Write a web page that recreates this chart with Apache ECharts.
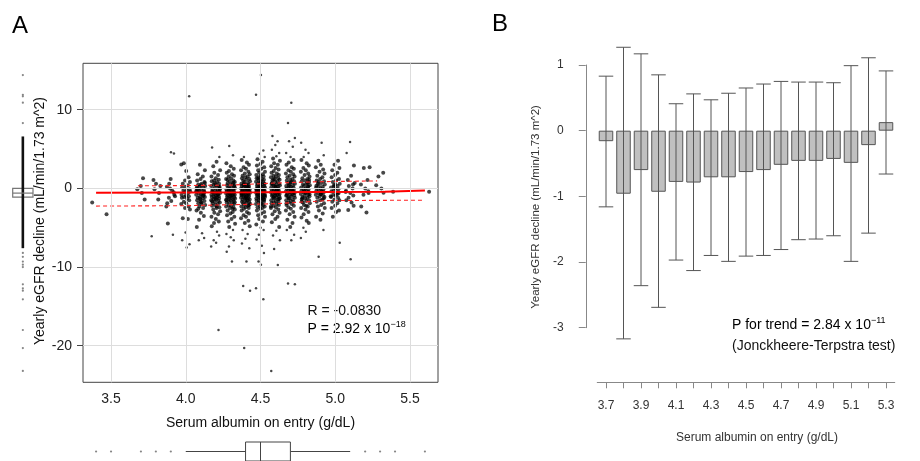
<!DOCTYPE html>
<html><head><meta charset="utf-8">
<script src="https://cdn.jsdelivr.net/npm/echarts@6/dist/echarts.min.js"></script>
<style>html,body{margin:0;padding:0;background:#fff}#c{width:920px;height:461px}</style>
</head><body><div id="c"></div>
<script>
const FONT = '"Liberation Sans", Arial, sans-serif';

// ---------- Panel A : scatter ----------
const A_X_TICKS = [3.5, 4.0, 4.5, 5.0, 5.5];
const A_Y_TICKS = [10, 0, -10, -20];
const JITTER = [-0.026, 0.009, 0.023, -0.013, 0.003, -0.03, 0.019, -0.005, 0.028, -0.02, 0.014, -0.001, -0.024, 0.025, 0.006, -0.016, 0.03, -0.009, 0.016, -0.028, 0.001, 0.021, -0.011];

const Y_34 = [-1.8];
const Y_35 = [-3.3];
const Y_37 = [1.3, 0.3, -0.1, -1.4, -0.6];
const Y_38 = [1.05, 0.3, -0.1, -1.4, -6.1, 0.6, -0.6];
const Y_39 = [4.6, 4.45, 0.6, 0.2, -0.3, -0.8, -1.2, -1.6, -2.3, -0.5, 0.0, -1.0, -4.45, -5.9, 1.2, -1.9];
const Y_40 = [11.7, 3.2, 2.2, 3.05, 1.4, 1.0, 0.8, 0.6, 0.4, 0.2, 0.1, -0.1, -0.2, -0.3, -0.4, -0.5, -0.6, -0.8, -0.9, -1.0, -1.1, -1.2, -1.3, -1.5, -1.7, -1.9, -2.0, -2.3, -2.5, -2.7, -3.8, -3.9, -5.6, -6.6, -7.1, -7.5];
const Y_41 = [3.0, 2.3, 1.8, 1.5, 1.2, 1.0, 0.8, 0.6, 0.5, 0.3, 0.2, 0.1, 0.0, -0.1, -0.2, -0.3, -0.4, -0.5, -0.5, -0.6, -0.7, -0.8, -0.9, -1.0, -1.1, -1.2, -1.3, -1.4, -1.5, -1.6, -1.8, -1.9, -2.1, -2.3, -2.5, -2.8, -3.1, -3.5, -4.0, -4.9, -5.7, -6.3, -6.6, 0.4, -0.35, -0.75, -1.25, 0.7, -0.15, -0.95, -1.7, 0.25, -0.45, -2.0, -2.6];
const Y_42 = [5.2, 4.0, 3.4, 2.8, 2.3, 2.0, 1.7, 1.5, 1.3, 1.1, 1.0, 0.9, 0.8, 0.6, 0.5, 0.4, 0.3, 0.2, 0.1, 0.0, -0.1, -0.2, -0.3, -0.35, -0.4, -0.5, -0.55, -0.6, -0.7, -0.75, -0.8, -0.9, -1.0, -1.05, -1.1, -1.2, -1.3, -1.35, -1.4, -1.5, -1.6, -1.7, -1.8, -1.9, -2.0, -2.1, -2.2, -2.4, -2.5, -2.7, -2.9, -3.1, -3.3, -3.6, -3.9, -4.2, -4.4, -4.8, -5.5, -6.0, -6.6, -6.9, -7.4, -18.0, 0.65, -0.15, -0.45, -0.85, -1.25, -1.65, 0.25, -2.3];
const Y_43 = [5.4, 4.2, 3.2, 2.8, 2.5, 2.2, 2.0, 1.8, 1.6, 1.5, 1.3, 1.2, 1.0, 0.9, 0.8, 0.7, 0.6, 0.5, 0.4, 0.3, 0.2, 0.1, 0.05, 0.0, -0.1, -0.15, -0.2, -0.3, -0.35, -0.4, -0.45, -0.5, -0.55, -0.6, -0.65, -0.7, -0.75, -0.8, -0.85, -0.9, -1.0, -1.05, -1.1, -1.15, -1.2, -1.3, -1.35, -1.4, -1.5, -1.55, -1.6, -1.7, -1.8, -1.9, -2.0, -2.1, -2.2, -2.3, -2.4, -2.5, -2.7, -2.8, -3.0, -3.2, -3.4, -3.6, -3.9, -4.2, -4.5, -4.9, -5.3, -5.8, -6.2, -6.6, -7.4, -8.05, -9.3, 0.35, -0.25, -0.95, -1.45, 0.75, -0.6, -1.75, 1.1, -2.6];
const Y_44 = [4.0, 3.6, 3.3, 3.0, 2.7, 2.5, 2.3, 2.1, 1.9, 1.8, 1.6, 1.5, 1.4, 1.3, 1.2, 1.1, 1.0, 0.9, 0.8, 0.7, 0.6, 0.5, 0.45, 0.4, 0.3, 0.25, 0.2, 0.1, 0.05, 0.0, -0.05, -0.1, -0.15, -0.2, -0.25, -0.3, -0.35, -0.4, -0.45, -0.5, -0.55, -0.6, -0.65, -0.7, -0.75, -0.8, -0.85, -0.9, -0.95, -1.0, -1.05, -1.1, -1.2, -1.25, -1.3, -1.4, -1.45, -1.5, -1.6, -1.7, -1.75, -1.8, -1.9, -2.0, -2.1, -2.2, -2.3, -2.4, -2.5, -2.6, -2.8, -3.0, -3.2, -3.4, -3.6, -3.8, -4.1, -4.4, -4.8, -5.3, -5.8, -6.4, -7.0, -7.6, -9.3, -12.4, -13.0, -20.3, 0.15, -0.5, -1.15, -0.3, 0.55, -0.7, -1.35, -2.15];
const Y_45 = [14.4, 11.9, 4.8, 4.4, 4.0, 3.7, 3.4, 3.1, 2.9, 2.7, 2.5, 2.3, 2.1, 2.0, 1.8, 1.7, 1.6, 1.5, 1.4, 1.3, 1.2, 1.1, 1.0, 0.9, 0.85, 0.8, 0.7, 0.6, 0.55, 0.5, 0.4, 0.35, 0.3, 0.2, 0.15, 0.1, 0.0, -0.05, -0.1, -0.15, -0.2, -0.25, -0.3, -0.35, -0.4, -0.45, -0.5, -0.55, -0.6, -0.65, -0.7, -0.75, -0.8, -0.85, -0.9, -0.95, -1.0, -1.05, -1.1, -1.15, -1.2, -1.3, -1.35, -1.4, -1.5, -1.55, -1.6, -1.7, -1.8, -1.9, -2.0, -2.1, -2.2, -2.3, -2.4, -2.5, -2.6, -2.8, -3.0, -3.2, -3.4, -3.6, -3.9, -4.2, -4.6, -5.0, -5.3, -5.9, -6.5, -7.3, -8.2, -9.3, -9.7, -12.7, -14.1, 0.25, -0.3, -0.6, -1.25, 0.65, -0.05, -1.45, -2.05, 1.25, -0.9];
const Y_46 = [6.65, 6.0, 5.5, 4.9, 4.5, 4.1, 3.8, 3.5, 3.2, 3.0, 2.8, 2.6, 2.4, 2.2, 2.0, 1.9, 1.7, 1.6, 1.5, 1.4, 1.3, 1.2, 1.1, 1.0, 0.9, 0.8, 0.7, 0.6, 0.5, 0.45, 0.4, 0.3, 0.2, 0.15, 0.1, 0.0, -0.1, -0.15, -0.2, -0.3, -0.35, -0.4, -0.5, -0.55, -0.6, -0.7, -0.75, -0.8, -0.9, -0.95, -1.0, -1.1, -1.2, -1.25, -1.3, -1.4, -1.5, -1.6, -1.7, -1.8, -1.9, -2.0, -2.1, -2.2, -2.4, -2.5, -2.7, -2.9, -3.1, -3.3, -3.6, -3.9, -4.3, -4.9, -5.4, -6.0, -6.6, -7.7, -9.75, -23.2, 0.25, -0.45, -1.05, 0.55, -0.25, -1.35, 1.15, -0.65, -2.3];
const Y_47 = [10.9, 8.3, 6.4, 6.0, 5.3, 4.5, 4.0, 3.6, 3.3, 3.0, 2.7, 2.5, 2.3, 2.1, 1.9, 1.8, 1.6, 1.5, 1.4, 1.2, 1.1, 1.0, 0.9, 0.8, 0.7, 0.6, 0.5, 0.4, 0.3, 0.2, 0.1, 0.05, 0.0, -0.1, -0.2, -0.25, -0.3, -0.4, -0.45, -0.5, -0.6, -0.65, -0.7, -0.8, -0.85, -0.9, -1.0, -1.1, -1.2, -1.3, -1.4, -1.5, -1.6, -1.7, -1.8, -1.9, -2.0, -2.2, -2.4, -2.6, -2.8, -3.0, -3.3, -3.6, -4.0, -4.4, -4.9, -5.3, -5.9, -6.6, -12.1, -12.2, 0.35, -0.35, -0.95, 0.75, -0.55, -1.25, -2.1];
const Y_48 = [5.8, 4.9, 4.5, 4.0, 3.6, 3.2, 2.9, 2.6, 2.3, 2.1, 1.9, 1.7, 1.5, 1.3, 1.2, 1.0, 0.9, 0.8, 0.6, 0.5, 0.4, 0.3, 0.2, 0.1, 0.0, -0.1, -0.2, -0.3, -0.4, -0.45, -0.5, -0.6, -0.7, -0.8, -0.9, -1.0, -1.1, -1.2, -1.3, -1.4, -1.5, -1.6, -1.8, -1.9, -2.1, -2.3, -2.5, -2.7, -3.0, -3.3, -3.7, -4.1, -4.4, -5.0, -5.5, -6.3, 0.25, -0.35, -0.75, -1.25, 0.7, -0.55, -1.7, 1.1, -2.2];
const Y_49 = [5.8, 4.2, 3.5, 3.0, 2.7, 2.4, 2.1, 1.9, 1.6, 1.4, 1.2, 1.0, 0.9, 0.7, 0.6, 0.5, 0.3, 0.2, 0.1, 0.0, -0.1, -0.2, -0.3, -0.4, -0.5, -0.6, -0.7, -0.8, -0.9, -1.0, -1.1, -1.2, -1.4, -1.5, -1.7, -1.9, -2.1, -2.3, -2.5, -2.8, -3.2, -3.6, -4.0, -5.3, -8.7, 0.35, -0.45, -1.3, 0.8, -0.75];
const Y_50 = [3.5, 3.0, 2.6, 2.3, 2.0, 1.7, 1.4, 1.2, 1.0, 0.8, 0.6, 0.4, 0.3, 0.1, 0.0, -0.1, -0.3, -0.4, -0.5, -0.6, -0.8, -0.9, -1.0, -1.2, -1.4, -1.5, -1.7, -1.9, -2.2, -2.5, -2.8, -3.0, -3.6, -6.9, 0.2, -0.7, -1.1, 0.5];
const Y_51 = [5.9, 4.5, 2.9, 1.6, 1.05, 0.7, 0.3, 0.0, -0.3, -0.6, -0.9, -1.2, -1.5, -1.8, -2.2, -2.75, -9.0, -0.45, 0.5];
const Y_52 = [2.7, 2.6, 1.05, 0.5, 0.0, -0.35, -0.8, -2.3, -3.05, -0.6];
const Y_53 = [2.0, 1.5, 0.4, 0.0, -0.55];
const Y_54 = [-0.43];
const Y_56 = [-0.43];

const COLUMN_X = [3.4, 3.5, 3.7, 3.8, 3.9, 4.0, 4.1, 4.2, 4.3, 4.4, 4.5, 4.6, 4.7, 4.8, 4.9, 5.0, 5.1, 5.2, 5.3, 5.4, 5.6];
const COLUMN_Y = [Y_34, Y_35, Y_37, Y_38, Y_39, Y_40, Y_41, Y_42, Y_43, Y_44, Y_45, Y_46, Y_47, Y_48, Y_49, Y_50, Y_51, Y_52, Y_53, Y_54, Y_56];

// fitted line and dashed band
const FIT_X = [3.4, 4.5, 5.33, 5.34, 5.6];
const FIT_Y = [-0.56, -0.5, -0.43, -0.27, -0.27];
const UPPER_X = [3.68, 4.0, 4.3, 4.6, 4.9, 5.28];
const UPPER_Y = [0.33, 0.36, 0.42, 0.68, 0.85, 0.95];
const LOWER_X = [3.4, 4.0, 4.6, 4.95, 5.6];
const LOWER_Y = [-2.25, -2.2, -1.95, -1.55, -1.5];

// marginal boxplots: [lower whisker, Q1, median, Q3, upper whisker]
const LEFT_BOX = [-2.75, -1.1, -0.6, 0.0, 1.65];
const LEFT_DENSE_RANGE = [-7.6, 6.6];
const LEFT_OUTLIERS = [14.4, 11.9, 11.7, 10.9, 8.3, -8.2, -8.7, -9.3, -9.7, -10.0, -12.2, -12.7, -13.0, -14.1, -18.0, -20.3, -23.2];
const BOTTOM_BOX = [4.0, 4.4, 4.5, 4.7, 5.1];
const BOTTOM_OUTLIERS = [3.4, 3.5, 3.7, 3.8, 3.9, 5.2, 5.3, 5.4, 5.6];

// ---------- Panel B : bars ----------
const B_CATS = ['3.7','3.8','3.9','4.0','4.1','4.2','4.3','4.4','4.5','4.6','4.7','4.8','4.9','5.0','5.1','5.2','5.3'];
const B_MEAN = [-0.16, -0.96, -0.60, -0.93, -0.78, -0.79, -0.71, -0.71, -0.63, -0.60, -0.52, -0.46, -0.46, -0.43, -0.49, -0.22, 0.13];
const B_HIGH = [0.83, 1.27, 1.17, 0.85, 0.41, 0.56, 0.47, 0.57, 0.65, 0.71, 0.75, 0.74, 0.74, 0.73, 0.99, 1.11, 0.91];
const B_LOW = [-1.16, -3.17, -2.36, -2.69, -1.97, -2.13, -1.90, -1.99, -1.91, -1.90, -1.81, -1.66, -1.65, -1.60, -1.99, -1.56, -0.66];

// ---------- build ----------
const scatterPts = [];
COLUMN_X.forEach((cx, ci) => {
  COLUMN_Y[ci].forEach((y, i) => {
    scatterPts.push([cx + JITTER[(i + ci * 5) % JITTER.length], y]);
  });
});
const zip = (xs, ys) => xs.map((x, i) => [x, ys[i]]);

const chart = echarts.init(document.getElementById('c'));
const AX = {min: 3.3125, max: 5.6875};
const AY = {min: -24.65, max: 15.9};
const supStyle = {
  n: {fontSize: 14, fontFamily: FONT, color: '#111', lineHeight: 18},
  s: {fontSize: 9, fontFamily: FONT, color: '#111', verticalAlign: 'top', lineHeight: 18}
};

chart.setOption({
  animation: false,
  textStyle: {fontFamily: FONT},
  grid: [
    {left: 83, top: 63.3, width: 355, height: 319, show: true, borderColor: '#444', borderWidth: 1, backgroundColor: 'rgba(0,0,0,0)'},
    {left: 597.25, top: 65, width: 297.5, height: 262.7},
    {left: 83, top: 442, width: 355, height: 22},
    {left: 12.7, top: 63.3, width: 20.3, height: 319}
  ],
  xAxis: [
    {gridIndex: 0, type: 'value', min: AX.min, max: AX.max,
     axisLine: {show: false},
     axisTick: {show: true, customValues: A_X_TICKS, length: 6, lineStyle: {color: '#444'}},
     axisLabel: {customValues: A_X_TICKS, formatter: v => v.toFixed(1), fontSize: 14, color: '#222', margin: 10, fontFamily: FONT},
     splitLine: {show: false}},
    {gridIndex: 1, type: 'category', data: B_CATS, offset: 54.6,
     axisLine: {show: true, onZero: false, lineStyle: {color: '#888'}},
     axisTick: {show: true, alignWithLabel: true, interval: 0, length: 6, lineStyle: {color: '#888'}},
     axisLabel: {interval: 1, fontSize: 12, color: '#333', margin: 17, fontFamily: FONT},
     splitLine: {show: false}},
    {gridIndex: 2, type: 'value', min: AX.min, max: AX.max, show: false},
    {gridIndex: 3, type: 'value', min: 0, max: 1, show: false}
  ],
  yAxis: [
    {gridIndex: 0, type: 'value', min: AY.min, max: AY.max,
     axisLine: {show: false},
     axisTick: {show: true, customValues: A_Y_TICKS, length: 6, lineStyle: {color: '#444'}},
     axisLabel: {customValues: A_Y_TICKS, fontSize: 14, color: '#222', margin: 11, fontFamily: FONT},
     splitLine: {show: false}},
    {gridIndex: 1, type: 'value', min: -3, max: 1, interval: 1, offset: 11.5,
     axisLine: {show: true, lineStyle: {color: '#888'}},
     axisTick: {show: true, length: 7, lineStyle: {color: '#888'}},
     axisLabel: {fontSize: 12, color: '#333', margin: 22, fontFamily: FONT},
     splitLine: {show: false}},
    {gridIndex: 2, type: 'value', min: 0, max: 1, show: false},
    {gridIndex: 3, type: 'value', min: AY.min, max: AY.max, show: false}
  ],
  series: [
    {type: 'line', xAxisIndex: 0, yAxisIndex: 0, data: [], z: 1, silent: true,
     markLine: {silent: true, symbol: ['none', 'none'], label: {show: false},
       lineStyle: {color: '#dddddd', type: 'solid', width: 1},
       data: A_X_TICKS.map(v => ({xAxis: v})).concat(A_Y_TICKS.map(v => ({yAxis: v})))}},
    {type: 'scatter', xAxisIndex: 0, yAxisIndex: 0, data: scatterPts, z: 3,
     symbolSize: v => (Math.abs(v[1] + 0.6) < 4.4 ? 4 : 2.5),
     itemStyle: {color: 'rgba(0,0,0,0.9)'}, silent: true},
    {type: 'line', xAxisIndex: 0, yAxisIndex: 0, data: zip(FIT_X, FIT_Y), symbol: 'none', z: 4,
     lineStyle: {color: '#ff0000', width: 2}},
    {type: 'line', xAxisIndex: 0, yAxisIndex: 0, data: zip(UPPER_X, UPPER_Y), symbol: 'none', z: 4,
     lineStyle: {color: '#ff2020', width: 1.1, type: [4, 3]}},
    {type: 'line', xAxisIndex: 0, yAxisIndex: 0, data: zip(LOWER_X, LOWER_Y), symbol: 'none', z: 4,
     lineStyle: {color: '#ff2020', width: 1.1, type: [4, 3]}},
    {type: 'custom', xAxisIndex: 2, yAxisIndex: 2, data: [BOTTOM_BOX], clip: false, silent: true,
     encode: {x: [0, 1, 2, 3, 4]},
     renderItem: (p, api) => {
       const v = [0, 1, 2, 3, 4].map(k => api.value(k));
       const X = t => api.coord([t, 0.5])[0];
       const yT = api.coord([v[0], 1])[1], yB = api.coord([v[0], 0])[1], yM = (yT + yB) / 2;
       const st = {stroke: '#444', lineWidth: 1, fill: null};
       return {type: 'group', children: [
         {type: 'line', shape: {x1: X(v[0]), y1: yM, x2: X(v[1]), y2: yM}, style: st},
         {type: 'line', shape: {x1: X(v[3]), y1: yM, x2: X(v[4]), y2: yM}, style: st},
         {type: 'rect', shape: {x: X(v[1]), y: yT, width: X(v[3]) - X(v[1]), height: yB - yT}, style: {stroke: '#444', lineWidth: 1, fill: '#fff'}},
         {type: 'line', shape: {x1: X(v[2]), y1: yT, x2: X(v[2]), y2: yB}, style: st}
       ]};
     }},
    {type: 'scatter', xAxisIndex: 2, yAxisIndex: 2, data: BOTTOM_OUTLIERS.map(v => [v, 0.5]), symbolSize: 2.2,
     itemStyle: {color: '#666'}, silent: true},
    {type: 'custom', xAxisIndex: 3, yAxisIndex: 3, data: [LEFT_BOX.concat(LEFT_DENSE_RANGE)], clip: false, silent: true,
     encode: {y: [0, 1, 2, 3, 4, 5, 6]},
     renderItem: (p, api) => {
       const v = [0, 1, 2, 3, 4, 5, 6].map(k => api.value(k));
       const Y = t => api.coord([0.5, t])[1];
       const xL = api.coord([0, 0])[0], xR = api.coord([1, 0])[0], xM = (xL + xR) / 2;
       return {type: 'group', children: [
         {type: 'rect', shape: {x: xL, y: Y(v[3]), width: xR - xL, height: Y(v[1]) - Y(v[3])}, style: {stroke: '#777', lineWidth: 1.2, fill: '#fff'}},
         {type: 'line', shape: {x1: xM, y1: Y(v[6]), x2: xM, y2: Y(v[5])}, style: {stroke: '#111', lineWidth: 2.6}},
         {type: 'line', shape: {x1: xL, y1: Y(v[2]), x2: xR, y2: Y(v[2])}, style: {stroke: '#777', lineWidth: 1.2}}
       ]};
     }},
    {type: 'scatter', xAxisIndex: 3, yAxisIndex: 3, data: LEFT_OUTLIERS.map(v => [0.5, v]), symbolSize: 2.2,
     itemStyle: {color: '#666'}, silent: true},
    {type: 'bar', xAxisIndex: 1, yAxisIndex: 1, data: B_MEAN, barCategoryGap: '17%', z: 2,
     itemStyle: {color: '#c0c0c0', borderColor: '#555', borderWidth: 1}, silent: true},
    {type: 'custom', xAxisIndex: 1, yAxisIndex: 1, clip: false, z: 3, silent: true,
     data: B_CATS.map((c, i) => [i, B_LOW[i], B_HIGH[i]]),
     encode: {x: 0, y: [1, 2]},
     renderItem: (p, api) => {
       const i = api.value(0);
       const pH = api.coord([i, api.value(2)]), pL = api.coord([i, api.value(1)]);
       const half = api.size([1, 0])[0] * 0.415;
       const st = {stroke: '#555', lineWidth: 1};
       return {type: 'group', children: [
         {type: 'line', shape: {x1: pH[0], y1: pH[1], x2: pL[0], y2: pL[1]}, style: st},
         {type: 'line', shape: {x1: pH[0] - half, y1: pH[1], x2: pH[0] + half, y2: pH[1]}, style: st},
         {type: 'line', shape: {x1: pL[0] - half, y1: pL[1], x2: pL[0] + half, y2: pL[1]}, style: st}
       ]};
     }}
  ],
  graphic: [
    {type: 'text', left: 12, top: 14, style: {text: 'A', fontSize: 24, fontFamily: FONT, fill: '#000'}},
    {type: 'text', left: 492, top: 12, style: {text: 'B', fontSize: 24, fontFamily: FONT, fill: '#000'}},
    {type: 'text', x: 40, y: 221, rotation: Math.PI / 2,
     style: {text: 'Yearly eGFR decline (mL/min/1.73 m^2)', fontSize: 14, fontFamily: FONT, fill: '#111', align: 'center', verticalAlign: 'middle'}},
    {type: 'text', x: 260.5, y: 423,
     style: {text: 'Serum albumin on entry (g/dL)', fontSize: 14, fontFamily: FONT, fill: '#111', align: 'center', verticalAlign: 'middle'}},
    {type: 'text', x: 307.5, y: 311,
     style: {text: 'R = -0.0830', fontSize: 14, fontFamily: FONT, fill: '#111', align: 'left', verticalAlign: 'middle'}},
    {type: 'text', x: 307.5, y: 329,
     style: {text: '{n|P = 2.92 x 10}{s|\u221218}', rich: supStyle, align: 'left', verticalAlign: 'middle'}},
    {type: 'text', x: 536, y: 207, rotation: Math.PI / 2,
     style: {text: 'Yearly eGFR decline (mL/min/1.73 m^2)', fontSize: 11.5, fontFamily: FONT, fill: '#333', align: 'center', verticalAlign: 'middle'}},
    {type: 'text', x: 757, y: 438,
     style: {text: 'Serum albumin on entry (g/dL)', fontSize: 12, fontFamily: FONT, fill: '#333', align: 'center', verticalAlign: 'middle'}},
    {type: 'text', x: 732, y: 325,
     style: {text: '{n|P for trend = 2.84 x 10}{s|\u221211}', rich: supStyle, align: 'left', verticalAlign: 'middle'}},
    {type: 'text', x: 732, y: 346,
     style: {text: '(Jonckheere-Terpstra test)', fontSize: 14, fontFamily: FONT, fill: '#111', align: 'left', verticalAlign: 'middle'}}
  ]
});
</script></body></html>
